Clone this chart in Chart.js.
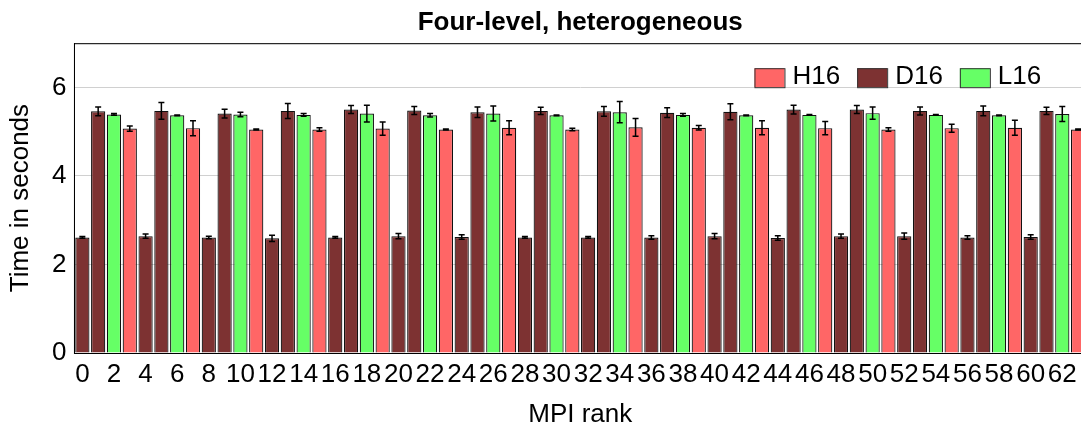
<!DOCTYPE html>
<html>
<head>
<meta charset="utf-8">
<script src="https://cdn.jsdelivr.net/npm/chart.js"></script>
<style>
	html, body { margin: 0; padding: 0; background: #fff; overflow: hidden; }
	#wrap { width: 1090px; height: 430px; }
</style>
</head>
<body>
<div id="wrap"><canvas id="graf_ranks"></canvas></div>
<script>
// one bar per MPI rank, coloured by the node type it ran on
var ranks = ['0','1','2','3','4','5','6','7','8','9','10','11','12','13','14','15',
	'16','17','18','19','20','21','22','23','24','25','26','27','28','29','30','31',
	'32','33','34','35','36','37','38','39','40','41','42','43','44','45','46','47',
	'48','49','50','51','52','53','54','55','56','57','58','59','60','61','62','63'];

var nodes = ('DDLH' + 'DDLH' + 'DDLH' + 'DDLH' + 'DDLH' + 'DDLH' + 'DDLH' + 'DDLH' +
	'DDLH' + 'DDLH' + 'DDLH' + 'DDLH' + 'DDLH' + 'DDLH' + 'DDLH' + 'DDLH').split('');

var times = [2.61, 5.46, 5.39, 5.07, 2.64, 5.47, 5.37, 5.08,
	2.61, 5.41, 5.39, 5.05, 2.59, 5.47, 5.38, 5.05,
	2.61, 5.50, 5.41, 5.07, 2.64, 5.48, 5.37, 5.05,
	2.62, 5.44, 5.41, 5.09, 2.61, 5.47, 5.37, 5.05,
	2.61, 5.46, 5.44, 5.10, 2.61, 5.43, 5.38, 5.09,
	2.64, 5.45, 5.37, 5.09, 2.60, 5.50, 5.38, 5.08,
	2.64, 5.50, 5.42, 5.05, 2.64, 5.47, 5.38, 5.08,
	2.61, 5.47, 5.37, 5.09, 2.62, 5.47, 5.40, 5.05];

var errs = [0.02, 0.10, 0.02, 0.06, 0.05, 0.19, 0.01, 0.17,
	0.03, 0.10, 0.05, 0.01, 0.07, 0.17, 0.03, 0.04,
	0.02, 0.09, 0.19, 0.15, 0.06, 0.09, 0.04, 0.01,
	0.05, 0.12, 0.17, 0.16, 0.02, 0.08, 0.01, 0.03,
	0.02, 0.11, 0.24, 0.20, 0.04, 0.11, 0.03, 0.05,
	0.06, 0.18, 0.01, 0.16, 0.05, 0.10, 0.01, 0.15,
	0.05, 0.09, 0.14, 0.04, 0.07, 0.09, 0.01, 0.09,
	0.04, 0.11, 0.01, 0.17, 0.05, 0.08, 0.17, 0.01];

var seriesKeys = ['H', 'D', 'L'];
var seriesNames = ['H16', 'D16', 'L16'];
var seriesColors = ['#ff6666', '#7d3232', '#66ff66'];

var datasets = [];
for (var s in seriesKeys) {
	var vals = [];
	var ebar = [];
	for (var i in times) {
		if (nodes[i] === seriesKeys[s]) {
			vals.push(times[i]);
			ebar.push(errs[i]);
		} else {
			vals.push(null);
			ebar.push(null);
		}
	}
	datasets.push({
		label: seriesNames[s],
		data: vals,
		err: ebar,
		backgroundColor: seriesColors[s],
		borderColor: '#111',
		borderWidth: 1.2,
		grouped: false,
		barPercentage: 0.9,
		categoryPercentage: 1.0
	});
}

var errorBars = {
	id: 'errorBars',
	afterDatasetsDraw: function(chart) {
		var c = chart.ctx;
		var y = chart.scales.y;
		c.save();
		c.strokeStyle = '#000';
		c.lineWidth = 1.5;
		chart.data.datasets.forEach(function(ds, d) {
			var meta = chart.getDatasetMeta(d);
			meta.data.forEach(function(bar, j) {
				if (ds.data[j] === null) return;
				var hi = y.getPixelForValue(ds.data[j] + ds.err[j]);
				var lo = y.getPixelForValue(ds.data[j] - ds.err[j]);
				c.beginPath();
				c.moveTo(bar.x, hi); c.lineTo(bar.x, lo);
				c.moveTo(bar.x - 3, hi); c.lineTo(bar.x + 3, hi);
				c.moveTo(bar.x - 3, lo); c.lineTo(bar.x + 3, lo);
				c.stroke();
			});
		});
		c.restore();
	}
};

var frameAndKey = {
	id: 'frameAndKey',
	afterDraw: function(chart) {
		var c = chart.ctx;
		var a = chart.chartArea;
		c.save();
		c.strokeStyle = '#000';
		c.lineWidth = 1;
		c.strokeRect(a.left, a.top + 0.5, a.right - a.left, a.bottom - a.top);

		// key sits inside the plot, top right
		c.font = '26px "Liberation Sans"';
		c.textBaseline = 'middle';
		var x = a.left + 680;
		var top = a.top + 25;
		chart.data.datasets.forEach(function(ds) {
			c.fillStyle = ds.backgroundColor;
			c.fillRect(x, top, 30, 19);
			c.strokeStyle = '#333';
			c.strokeRect(x + 0.5, top + 0.5, 30, 19);
			c.fillStyle = '#000';
			c.fillText(ds.label, x + 38, top + 9);
			x += 38 + c.measureText(ds.label).width + 17;
		});
		c.restore();
	}
};

Chart.defaults.font.family = '"Liberation Sans", Arial, sans-serif';
Chart.defaults.color = '#000';

var ctx = document.getElementById('graf_ranks');

var barGraph = new Chart(ctx, {
	type: 'bar',
	data: {
		labels: ranks,
		datasets: datasets
	},
	options: {
		responsive: true,
		maintainAspectRatio: false,
		animation: false,
		layout: { padding: { left: 0, right: 4, top: 0, bottom: 0 } },
		plugins: {
			legend: { display: false },
			tooltip: { enabled: false },
			title: {
				display: true,
				fullSize: false,
				text: 'Four-level, heterogeneous',
				font: { size: 26, weight: 'bold' },
				color: '#000',
				padding: { top: 7, bottom: 5 }
			}
		},
		scales: {
			x: {
				grid: { display: false, drawTicks: false },
				border: { color: '#000' },
				ticks: {
					autoSkip: false,
					maxRotation: 0,
					font: { size: 26, lineHeight: 1.1 },
					padding: 8,
					callback: function(v, i) {
						return i % 2 === 0 ? this.getLabelForValue(v) : '';
					}
				},
				title: { display: true, text: 'MPI rank', font: { size: 26 }, padding: { top: 1.2, bottom: 0 } }
			},
			y: {
				min: 0,
				max: 7,
				grid: { color: '#d0d0d0', drawTicks: false },
				border: { color: '#000' },
				ticks: {
					stepSize: 2,
					font: { size: 26 },
					padding: 8,
					callback: function(v) { return v % 2 === 0 ? v : ''; }
				},
				title: { display: true, text: 'Time in seconds', font: { size: 26 }, padding: { top: 5.4, bottom: 7.4 } }
			}
		}
	},
	plugins: [errorBars, frameAndKey]
});
</script>
</body>
</html>
